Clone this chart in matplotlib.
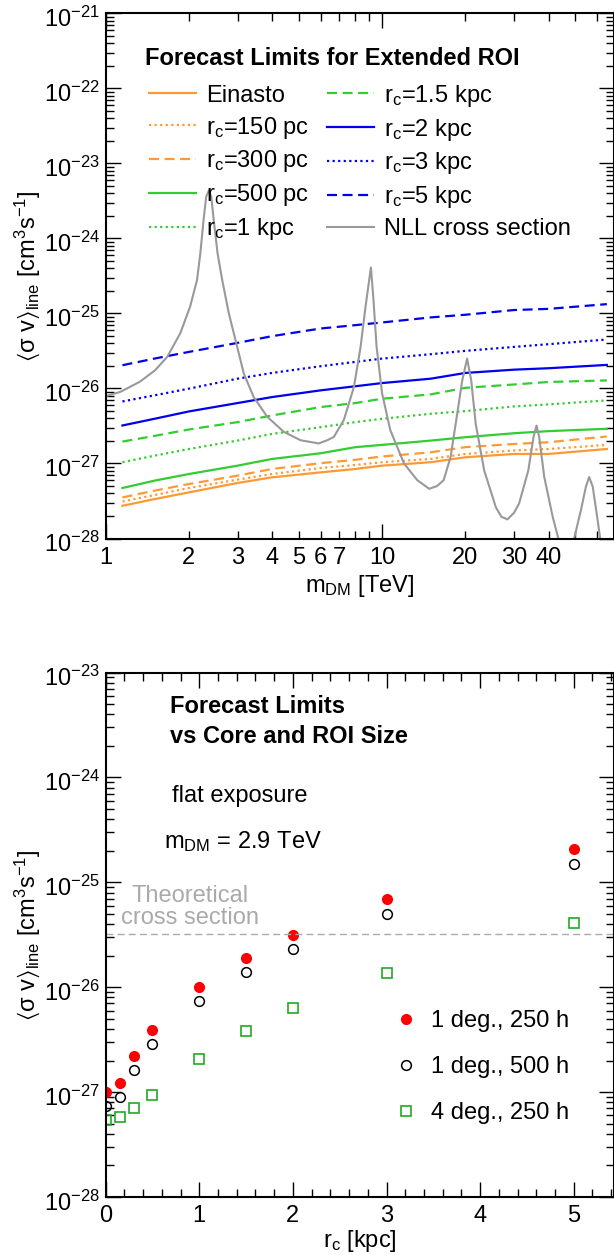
import matplotlib
matplotlib.use("Agg")
import matplotlib.pyplot as plt
from matplotlib import ticker
from matplotlib.transforms import ScaledTranslation

plt.rcParams["font.family"] = ["Liberation Sans", "DejaVu Sans"]
plt.rcParams["font.size"] = 17
plt.rcParams["mathtext.fontset"] = "custom"
plt.rcParams["mathtext.rm"] = "Liberation Sans"
plt.rcParams["mathtext.it"] = "Liberation Sans:italic"
plt.rcParams["mathtext.bf"] = "Liberation Sans:bold"
plt.rcParams["mathtext.default"] = "regular"

# ---- top panel: limits vs DM mass (TeV, cm^3 s^-1) ----
mass = [1.15, 1.5, 2, 3, 4, 6, 8, 10, 15, 20, 30, 40, 65]
einasto = [2.73e-28, 3.35e-28, 4.12e-28, 5.50e-28, 6.54e-28, 7.62e-28, 8.45e-28,
           9.36e-28, 1.04e-27, 1.21e-27, 1.34e-27, 1.34e-27, 1.56e-27]
rc_150pc = [3.12e-28, 3.79e-28, 4.71e-28, 6.09e-28, 7.24e-28, 8.71e-28, 9.55e-28,
            1.04e-27, 1.15e-27, 1.34e-27, 1.49e-27, 1.56e-27, 1.77e-27]
rc_300pc = [3.53e-28, 4.34e-28, 5.32e-28, 6.89e-28, 8.45e-28, 1.01e-27, 1.12e-27,
            1.24e-27, 1.41e-27, 1.65e-27, 1.82e-27, 1.92e-27, 2.29e-27]
rc_500pc = [4.71e-28, 5.90e-28, 7.24e-28, 9.36e-28, 1.15e-27, 1.37e-27, 1.65e-27,
            1.77e-27, 2.02e-27, 2.24e-27, 2.53e-27, 2.70e-27, 2.90e-27]
rc_1kpc = [1.04e-27, 1.27e-27, 1.56e-27, 2.02e-27, 2.48e-27, 3.05e-27, 3.56e-27,
           3.94e-27, 4.60e-27, 4.99e-27, 5.76e-27, 6.13e-27, 6.93e-27]
rc_1p5kpc = [1.96e-27, 2.33e-27, 2.84e-27, 3.56e-27, 4.37e-27, 5.65e-27, 6.39e-27,
             7.30e-27, 8.34e-27, 1.02e-26, 1.13e-26, 1.22e-26, 1.28e-26]
rc_2kpc = [3.21e-27, 3.94e-27, 4.94e-27, 6.39e-27, 7.68e-27, 9.44e-27, 1.07e-26,
           1.18e-26, 1.35e-26, 1.61e-26, 1.78e-26, 1.86e-26, 2.06e-26]
rc_3kpc = [6.71e-27, 8.09e-27, 9.94e-27, 1.35e-26, 1.61e-26, 1.98e-26, 2.26e-26,
           2.50e-26, 2.86e-26, 3.17e-26, 3.58e-26, 3.89e-26, 4.49e-26]
rc_5kpc = [2.04e-26, 2.50e-26, 3.07e-26, 4.05e-26, 4.98e-26, 6.30e-26, 6.98e-26,
           7.58e-26, 8.85e-26, 9.60e-26, 1.11e-25, 1.15e-25, 1.33e-25]

nll_mass = [1.0, 1.13, 1.33, 1.51, 1.67, 1.86, 2.02, 2.14, 2.20, 2.26, 2.31, 2.36,
            2.41, 2.46, 2.54, 2.64, 2.79, 2.99, 3.16, 3.43, 3.84, 4.41, 5.07, 5.90,
            6.33, 6.69, 7.27, 7.91, 8.36, 8.71, 9.11, 9.29, 9.55, 10.0, 10.7, 12.0,
            13.4, 14.8, 15.8, 16.7, 17.7, 18.7, 19.5, 20.3, 21.0, 21.8, 23.4, 25.8,
            27.0, 28.4, 30.0, 31.3, 33.8, 35.3, 36.2, 37.0, 38.6, 41.4, 43.4, 46.0,
            49.5, 52.4, 54.6, 56.1, 57.8, 60.2, 61.5, 64.0]
nll_xsec = [7.9e-27, 9.0e-27, 1.23e-26, 1.75e-26, 2.64e-26, 5.4e-26, 1.23e-25,
            2.78e-25, 6.3e-25, 1.75e-24, 3.6e-24, 4.3e-24, 3.6e-24, 1.75e-24,
            6.3e-25, 2.78e-25, 1.0e-25, 3.6e-26, 1.58e-26, 7.7e-27, 4.2e-27,
            2.64e-27, 2.04e-27, 1.85e-27, 2.04e-27, 2.26e-27, 3.8e-27, 1.05e-26,
            3.6e-26, 1.23e-25, 4.1e-25, 1.66e-25, 3.6e-26, 8.6e-27, 2.8e-27,
            1.0e-27, 6.0e-28, 4.6e-28, 5.0e-28, 6.0e-28, 1.23e-27, 4.65e-27,
            1.29e-26, 2.5e-26, 1.29e-26, 3.4e-27, 8.1e-28, 2.6e-28, 1.95e-28,
            1.8e-28, 2.2e-28, 2.93e-28, 8.1e-28, 2.26e-27, 3.2e-27, 2.26e-27,
            6.6e-28, 1.95e-28, 1.0e-28, 5.0e-29, 1.0e-28, 2.4e-28, 4.9e-28,
            6.6e-28, 4.9e-28, 1.76e-28, 1.0e-28, 5.0e-29]

mass_minor_ticks = [2, 3, 4, 5, 6, 7, 8, 9, 20, 30, 40, 50, 60]
mass_minor_labels = ["2", "3", "4", "5", "6", "7", "", "", "20", "30", "40", "", ""]

# ---- bottom panel: limits vs core radius at m_DM = 2.9 TeV ----
core_radius = [0, 0.15, 0.3, 0.5, 1, 1.5, 2, 3, 5]
lim_1deg_250h = [1.0e-27, 1.22e-27, 2.22e-27, 3.93e-27, 1.0e-26, 1.9e-26, 3.15e-26,
                 6.9e-26, 2.06e-25]
lim_1deg_500h = [7.3e-28, 9.0e-28, 1.62e-27, 2.87e-27, 7.4e-27, 1.39e-26, 2.32e-26,
                 5.0e-26, 1.5e-25]
lim_4deg_250h = [5.4e-28, 5.8e-28, 7.05e-28, 9.4e-28, 2.09e-27, 3.86e-27, 6.35e-27,
                 1.36e-26, 4.12e-26]
theory_xsec = 3.2e-26

ORANGE = "#ff9933"
GREEN = "#33cc33"
BLUE = "#0000ee"
GRAY = "#999999"
DOT = (0, (1, 1.5))
DASH = (0, (4.5, 2.5))
YLABEL = r"$\langle\sigma\ v\rangle_{line}$ [cm$^{3}$s$^{-1}$]"


def style_axes(ax, low_exp, high_exp):
    for spine in ax.spines.values():
        spine.set_linewidth(1.5)
    ax.tick_params(which="both", direction="in", top=True, right=True,
                   width=1.0, labelsize=17)
    ax.tick_params(which="major", length=11)
    ax.tick_params(which="minor", length=6)
    ax.tick_params(axis="y", which="both", pad=4)
    # only decades inside the axis range, so no stray labels off the figure
    decades = [10.0 ** p for p in range(low_exp, high_exp + 1)]
    minors = [m * 10.0 ** p for p in range(low_exp, high_exp) for m in range(2, 10)]
    ax.yaxis.set_major_locator(ticker.FixedLocator(decades))
    ax.yaxis.set_major_formatter(ticker.LogFormatterSciNotation())
    ax.yaxis.set_minor_locator(ticker.FixedLocator(minors))
    ax.yaxis.set_minor_formatter(ticker.NullFormatter())


def lower_ytick_labels(ax, fig):
    # ROOT puts the decade labels a few pixels below the tick
    shift = ScaledTranslation(0, -3.5 / 100, fig.dpi_scale_trans)
    for label in ax.get_yticklabels():
        label.set_transform(label.get_transform() + shift)


fig = plt.figure(figsize=(6.14, 12.55), dpi=100)
ax1 = fig.add_axes([0.1721, 0.5709, 0.8279, 0.4185])
ax2 = fig.add_axes([0.1721, 0.0462, 0.8279, 0.4179])

# top panel
lw = 1.6
ax1.plot(mass, einasto, color=ORANGE, lw=lw, label="Einasto")
ax1.plot(mass, rc_150pc, color=ORANGE, lw=lw, ls=DOT, label=r"r$_{c}$=150 pc")
ax1.plot(mass, rc_300pc, color=ORANGE, lw=lw, ls=DASH, label=r"r$_{c}$=300 pc")
ax1.plot(mass, rc_500pc, color=GREEN, lw=lw, label=r"r$_{c}$=500 pc")
ax1.plot(mass, rc_1kpc, color=GREEN, lw=lw, ls=DOT, label=r"r$_{c}$=1 kpc")
ax1.plot(mass, rc_1p5kpc, color=GREEN, lw=lw, ls=DASH, label=r"r$_{c}$=1.5 kpc")
ax1.plot(mass, rc_2kpc, color=BLUE, lw=lw, label=r"r$_{c}$=2 kpc")
ax1.plot(mass, rc_3kpc, color=BLUE, lw=lw, ls=DOT, label=r"r$_{c}$=3 kpc")
ax1.plot(mass, rc_5kpc, color=BLUE, lw=lw, ls=DASH, label=r"r$_{c}$=5 kpc")
ax1.plot(nll_mass, nll_xsec, color=GRAY, lw=1.5, label="NLL cross section")

ax1.set_xscale("log")
ax1.set_yscale("log")
ax1.set_xlim(1, 69)
ax1.set_ylim(1e-28, 1e-21)
style_axes(ax1, -28, -21)
ax1.xaxis.set_major_locator(ticker.FixedLocator([1, 10]))
ax1.xaxis.set_major_formatter(ticker.FixedFormatter(["1", "10"]))
ax1.xaxis.set_minor_locator(ticker.FixedLocator(mass_minor_ticks))
ax1.xaxis.set_minor_formatter(ticker.FixedFormatter(mass_minor_labels))
ax1.tick_params(axis="x", which="both", pad=6)

ax1.text(0.0773, 0.9016, "Forecast Limits for Extended ROI", transform=ax1.transAxes,
         fontweight="bold", fontsize=17, va="baseline")
ax1.legend(ncol=2, loc="upper left", bbox_to_anchor=(0.0852, 0.868), frameon=False,
           fontsize=17, handlelength=2.0, handletextpad=0.42, columnspacing=0.76,
           labelspacing=0.335, borderpad=0, borderaxespad=0)
ax1.set_xlabel(r"m$_{DM}$ [TeV]", fontsize=17)
ax1.xaxis.set_label_coords(0.5, -0.066)
ax1.set_ylabel(YLABEL, fontsize=17)
ax1.yaxis.set_label_coords(-0.125, 0.5)

# bottom panel
ax2.plot(core_radius, lim_1deg_250h, ls="none", marker="o", ms=7, color="#ff0000",
         label="1 deg., 250 h")
ax2.plot(core_radius, lim_1deg_500h, ls="none", marker="o", ms=7, mfc="none",
         mec="black", mew=1.1, label="1 deg., 500 h")
ax2.plot(core_radius, lim_4deg_250h, ls="none", marker="s", ms=7, mfc="none",
         mec="#22aa22", mew=1.2, label="4 deg., 250 h")
ax2.axhline(theory_xsec, color="#aaaaaa", lw=1.0, ls=(0, (5, 3)))

ax2.set_yscale("log")
ax2.set_xlim(0, 5.43)
ax2.set_ylim(1e-28, 1e-23)
style_axes(ax2, -28, -23)
ax2.xaxis.set_major_locator(ticker.MultipleLocator(1))
ax2.xaxis.set_minor_locator(ticker.MultipleLocator(0.2))
ax2.tick_params(axis="x", which="both", pad=6)

ax2.text(0.127, 0.9234, "Forecast Limits", transform=ax2.transAxes,
         fontweight="bold", va="baseline")
ax2.text(0.127, 0.865, "vs Core and ROI Size", transform=ax2.transAxes,
         fontweight="bold", va="baseline")
ax2.text(0.131, 0.754, "flat exposure", transform=ax2.transAxes, va="baseline")
ax2.text(0.115, 0.665, r"m$_{DM}$ = 2.9 TeV", transform=ax2.transAxes, va="baseline")
ax2.text(0.166, 0.563, "Theoretical", transform=ax2.transAxes, ha="center",
         va="baseline", color="#aaaaaa")
ax2.text(0.166, 0.5205, "cross section", transform=ax2.transAxes, ha="center",
         va="baseline", color="#aaaaaa")

ax2.legend(loc="upper left", bbox_to_anchor=(0.567, 0.356), frameon=False,
           fontsize=17, numpoints=1, handlelength=1.0, handletextpad=0.57,
           labelspacing=1.02, borderpad=0, borderaxespad=0)
ax2.set_xlabel(r"r$_{c}$ [kpc]", fontsize=17)
ax2.xaxis.set_label_coords(0.5, -0.059)
ax2.set_ylabel(YLABEL, fontsize=17)
ax2.yaxis.set_label_coords(-0.125, 0.5)

lower_ytick_labels(ax1, fig)
lower_ytick_labels(ax2, fig)

fig.savefig("out.png", dpi=100)
